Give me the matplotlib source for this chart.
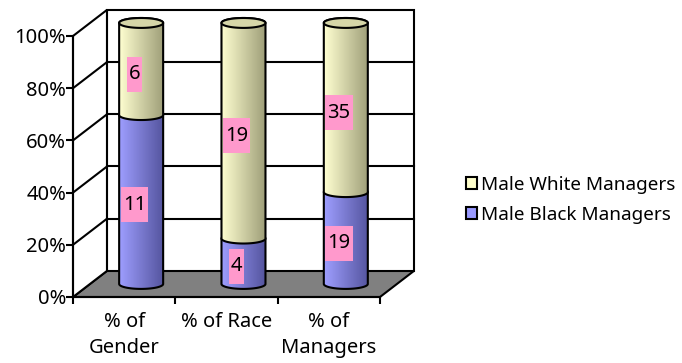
import numpy as np
import matplotlib
matplotlib.use("Agg")
import matplotlib.pyplot as plt
from matplotlib.patches import Polygon, PathPatch, Patch, Rectangle
from matplotlib.path import Path
from matplotlib.transforms import Bbox

FS = 14.5
plt.rcParams['font.family'] = ['Noto Sans', 'DejaVu Sans']
plt.rcParams['font.size'] = FS

categories = ['% of\nGender', '% of Race', '% of\nManagers']
black_mgrs = [11, 4, 19]
white_mgrs = [6, 19, 35]
series_names = ['Male Black Managers', 'Male White Managers']
yticks = [0, 20, 40, 60, 80, 100]

# look of the fake 3d box
DX, DY = 0.332, 10.0        # depth offset (x units, percent)
CYL_W = 0.43                # cylinder width (x units)
ELL_H = 3.8                 # ellipse height (percent)
BLUE = ((0.62, 0.62, 1.0), (0.33, 0.33, 0.62))
YELLOW = ((1.0, 1.0, 0.82), (0.62, 0.62, 0.47))
CAP = '#d6d6a8'
LW = 1.5

fig = plt.figure(figsize=(6.82, 3.63), dpi=100)
ax = fig.add_axes([0, 0, 1, 1])
# axes span the whole figure; limits put 0..3 / 0..100 at the front plot frame
ax.set_xlim(-73 / 102.33, (682 - 73) / 102.33)
ax.set_ylim((297 - 363) / 2.61, 297 / 2.61)
ax.patch.set_visible(False)

n = len(categories)

# floor
ax.add_patch(Polygon([(0, 0), (n, 0), (n + DX, DY), (DX, DY)], closed=True,
                     facecolor='#808080', edgecolor='black', lw=LW, zorder=1))
# back wall
ax.add_patch(Polygon([(DX, DY), (n + DX, DY), (n + DX, 100 + DY), (DX, 100 + DY)],
                     closed=True, facecolor='white', edgecolor='black', lw=LW, zorder=1))
# side wall
ax.add_patch(Polygon([(0, 0), (0, 100), (DX, 100 + DY), (DX, DY)], closed=True,
                     facecolor='white', edgecolor='black', lw=LW, zorder=1))
for v in yticks[1:-1]:
    ax.plot([DX, n + DX], [v + DY, v + DY], color='black', lw=LW, zorder=1.5)
    ax.plot([0, DX], [v, v + DY], color='black', lw=LW, zorder=1.5)


def half_ellipse(cx, cy, lower=True, npts=40):
    t = np.linspace(np.pi, 2 * np.pi, npts) if lower else np.linspace(0, np.pi, npts)
    return np.column_stack([cx + CYL_W / 2 * np.cos(t), cy + ELL_H / 2 * np.sin(t)])


def segment(cx, y0, y1, colors, z):
    pts = np.vstack([half_ellipse(cx, y0, lower=True),
                     half_ellipse(cx, y1, lower=False)])
    path = Path(np.vstack([pts, pts[:1]]), closed=True)
    outline = PathPatch(path, facecolor='none', edgecolor='black', lw=LW, zorder=z + 0.1)
    ax.add_patch(outline)
    grad = np.linspace(0, 1, 64)[None, :, None]
    c0, c1 = np.array(colors[0]), np.array(colors[1])
    img = c0 + (c1 - c0) * grad
    im = ax.imshow(img, extent=[cx - CYL_W / 2, cx + CYL_W / 2,
                                y0 - ELL_H, y1 + ELL_H],
                   aspect='auto', interpolation='bilinear', zorder=z, origin='lower')
    im.set_clip_path(outline)


labels = []
for i in range(n):
    total = black_mgrs[i] + white_mgrs[i]
    pb = 100.0 * black_mgrs[i] / total
    cx = i + 0.5 + DX / 2
    base = DY / 2
    segment(cx, base, base + pb, BLUE, 3)
    segment(cx, base + pb, base + 100, YELLOW, 4)
    cap_pts = np.vstack([half_ellipse(cx, base + 100, True),
                         half_ellipse(cx, base + 100, False)])
    ax.add_patch(Polygon(cap_pts, closed=True, facecolor=CAP, edgecolor='black',
                         lw=LW, zorder=5))
    lx = i + 0.5 + 0.3 * DX
    for val, lo, hi in [(black_mgrs[i], 0, pb), (white_mgrs[i], pb, 100)]:
        t = ax.text(lx, (lo + hi) / 2 + 0.3 * DY, str(val), ha='center', va='center',
                    fontsize=FS, zorder=7)
        labels.append(t)

# axis lines and ticks
for s in ['top', 'right']:
    ax.spines[s].set_visible(False)
ax.spines['left'].set_position(('data', 0))
ax.spines['bottom'].set_position(('data', 0))
ax.spines['left'].set_bounds(0, 100)
ax.spines['bottom'].set_bounds(0, n)
for s in ['left', 'bottom']:
    ax.spines[s].set_linewidth(LW)
    ax.spines[s].set_zorder(2)
ax.set_yticks(yticks)
ax.set_yticklabels([f'{v}%' for v in yticks])
ax.set_xticks(range(n + 1))
ax.set_xticklabels([''] * (n + 1))
ax.set_xticks(np.arange(n) + 0.5, minor=True)
ax.set_xticklabels(categories, minor=True, linespacing=1.4)
ax.tick_params(axis='both', which='major', direction='out', length=5, width=LW,
               labelsize=FS)
ax.tick_params(axis='y', pad=0)
ax.tick_params(axis='x', which='minor', length=0, pad=11, labelsize=FS)
ax.tick_params(axis='y', which='minor', left=False)

handles = [Patch(facecolor='#ffffcc', edgecolor='black', lw=LW, label=series_names[1]),
           Patch(facecolor='#9999ff', edgecolor='black', lw=LW, label=series_names[0])]
fig.legend(handles=handles, loc='center left', bbox_to_anchor=(466 / 682, 1 - 200 / 363),
           frameon=False, fontsize=13.6, handlelength=0.6, handleheight=0.6,
           handletextpad=0.2, labelspacing=0.65, borderpad=0, borderaxespad=0)

# tall pink boxes behind the value labels
fig.canvas.draw()
r = fig.canvas.get_renderer()
inv = ax.transData.inverted()
for t in labels:
    bb = t.get_window_extent(r)
    cxp, cyp = (bb.x0 + bb.x1) / 2, (bb.y0 + bb.y1) / 2
    w, h = bb.width + 4, 35
    box = Bbox([[cxp - w / 2, cyp - h / 2], [cxp + w / 2, cyp + h / 2]]).transformed(inv)
    ax.add_patch(Rectangle((box.x0, box.y0), box.width, box.height,
                           facecolor='#ff99cc', edgecolor='none', zorder=6.5))

fig.savefig('out.png', dpi=100)
